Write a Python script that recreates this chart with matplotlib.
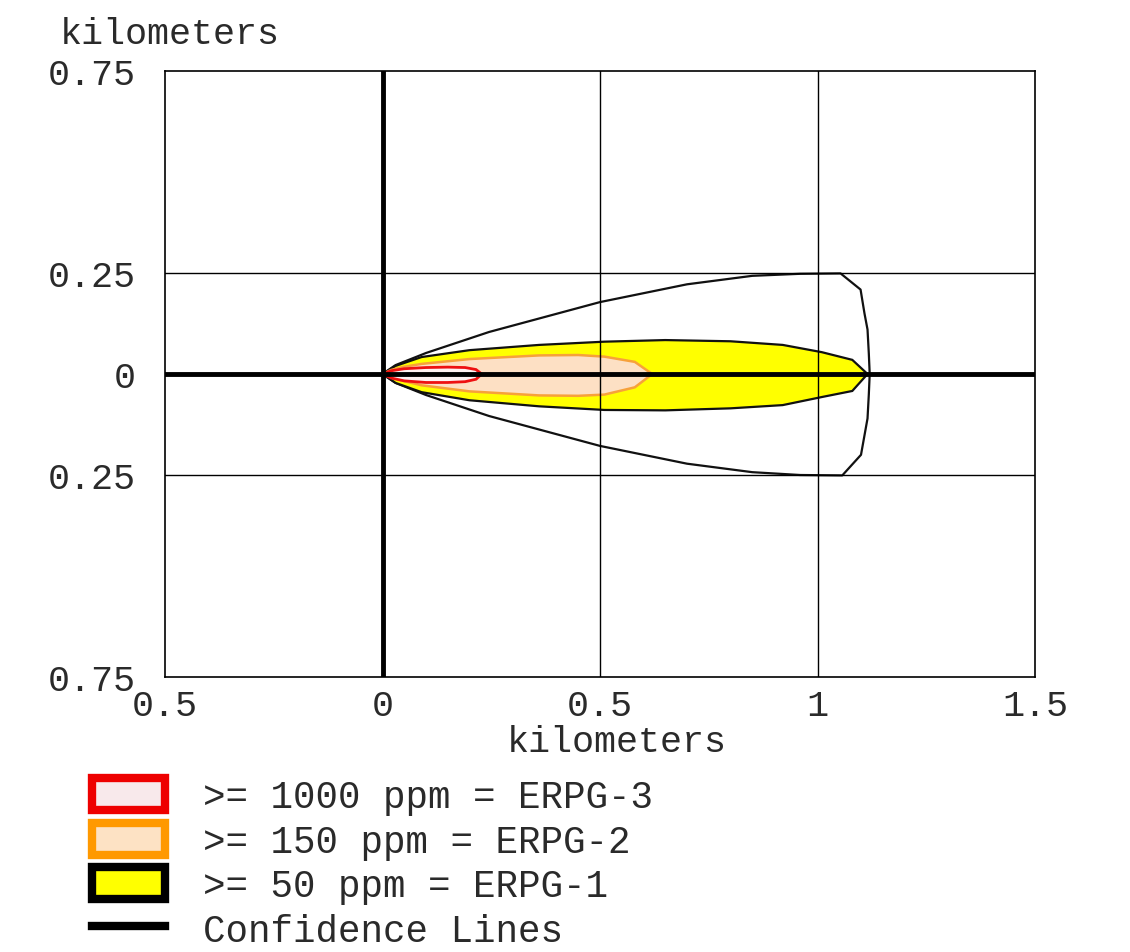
import matplotlib
matplotlib.use("Agg")
import matplotlib.pyplot as plt
from matplotlib.patches import Patch
from matplotlib.lines import Line2D

plt.rcParams['font.family'] = ['Liberation Mono', 'DejaVu Sans Mono']

# threat zone outlines (km downwind, km crosswind)
red_x = [0, 0.02, 0.05, 0.10, 0.15, 0.19, 0.215, 0.228, 0.215, 0.19, 0.15, 0.10, 0.05, 0.02, 0]
red_y = [0, 0.008, 0.013, 0.016, 0.017, 0.016, 0.011, 0.0, -0.013, -0.019, -0.021, -0.021, -0.017, -0.010, 0]

orange_x = [0, 0.02, 0.05, 0.09, 0.20, 0.36, 0.45, 0.51, 0.58, 0.62,
            0.58, 0.51, 0.45, 0.36, 0.20, 0.09, 0.04, 0]
orange_y = [0, 0.010, 0.018, 0.025, 0.037, 0.046, 0.047, 0.043, 0.030, 0.0,
            -0.033, -0.051, -0.054, -0.053, -0.043, -0.028, -0.015, 0]

yellow_x = [0, 0.03, 0.09, 0.20, 0.36, 0.51, 0.65, 0.80, 0.92, 1.01, 1.08, 1.115,
            1.08, 1.01, 0.92, 0.80, 0.65, 0.51, 0.36, 0.20, 0.09, 0.03, 0]
yellow_y = [0, 0.020, 0.042, 0.059, 0.072, 0.080, 0.084, 0.081, 0.072, 0.054, 0.035, 0.0,
            -0.042, -0.057, -0.077, -0.085, -0.090, -0.089, -0.080, -0.065, -0.045, -0.022, 0]

conf_top_x = [0, 0.03, 0.10, 0.245, 0.50, 0.70, 0.85, 0.96, 1.053, 1.099, 1.108, 1.115, 1.118, 1.12]
conf_top_y = [0, 0.022, 0.052, 0.104, 0.178, 0.222, 0.243, 0.248, 0.249, 0.209, 0.150, 0.110, 0.050, 0.0]
conf_bot_x = [1.12, 1.118, 1.115, 1.10, 1.057, 0.96, 0.85, 0.70, 0.50, 0.245, 0.10, 0.03, 0]
conf_bot_y = [0.0, -0.050, -0.110, -0.200, -0.251, -0.250, -0.243, -0.222, -0.178, -0.104, -0.052, -0.022, 0]

xticks = [-0.5, 0, 0.5, 1, 1.5]
xtick_labels = ['0.5', '0', '0.5', '1', '1.5']
yticks = [-0.75, -0.25, 0, 0.25, 0.75]
ytick_labels = ['0.75', '0.25', '0', '0.25', '0.75']

legend_labels = ['>= 1000 ppm = ERPG-3', '>= 150 ppm = ERPG-2',
                 '>= 50 ppm = ERPG-1', 'Confidence Lines']

txt = '#2a2a2a'
fs = 26.5
fig = plt.figure(figsize=(11.3, 9.53), dpi=100)
ax = fig.add_axes([165/1130, 1-678/953, 870/1130, 606/953])

ax.plot(conf_top_x, conf_top_y, color='#111111', lw=1.6, zorder=2)
ax.plot(conf_bot_x, conf_bot_y, color='#111111', lw=1.6, zorder=2)
ax.fill(yellow_x, yellow_y, facecolor='#ffff00', edgecolor='#111111', lw=1.6, zorder=3)
ax.fill(orange_x, orange_y, facecolor='#fde0c4', edgecolor='#f7a13a', lw=1.8, zorder=4)
ax.fill(red_x, red_y, facecolor='#fdf2f2', edgecolor='#ee1111', lw=2.0, zorder=5)

for v in [0.5, 1.0]:
    ax.axvline(v, color='black', lw=1.0, zorder=6)
for h in [-0.25, 0.25]:
    ax.axhline(h, color='black', lw=1.0, zorder=6)
ax.axvline(0, color='black', lw=3.5, zorder=7)
ax.axhline(0, color='black', lw=3.5, zorder=7)

ax.set_xlim(-0.5, 1.5)
ax.set_ylim(-0.75, 0.75)
ax.set_xticks(xticks)
ax.set_xticklabels(xtick_labels)
ax.set_yticks(yticks)
ax.set_yticklabels(ytick_labels)
ax.tick_params(length=0, labelsize=fs, colors=txt)
ax.tick_params(axis='y', pad=21)
ax.tick_params(axis='x', pad=8)
for s in ax.spines.values():
    s.set_linewidth(1.2)
    s.set_color('black')

fig.text(60/1130, 1-35/953, 'kilometers', fontsize=fs, color=txt, ha='left', va='center')
fig.text(617/1130, 1-742/953, 'kilometers', fontsize=fs, color=txt, ha='center', va='center')

handles = [
    Patch(facecolor='#f8e9eb', edgecolor='#ee0000', linewidth=6),
    Patch(facecolor='#fde2c4', edgecolor='#ff9900', linewidth=6),
    Patch(facecolor='#ffff00', edgecolor='black', linewidth=6),
    Line2D([0], [0], color='black', lw=6),
]
fig.legend(handles, legend_labels, loc='upper left', bbox_to_anchor=(92/1130, 1-779/953),
           frameon=False, fontsize=27, labelcolor=txt, borderpad=0, borderaxespad=0,
           handlelength=1.95, handleheight=0.95, handletextpad=1.0, labelspacing=0.2)

fig.savefig('out.png', dpi=100, facecolor='white')
